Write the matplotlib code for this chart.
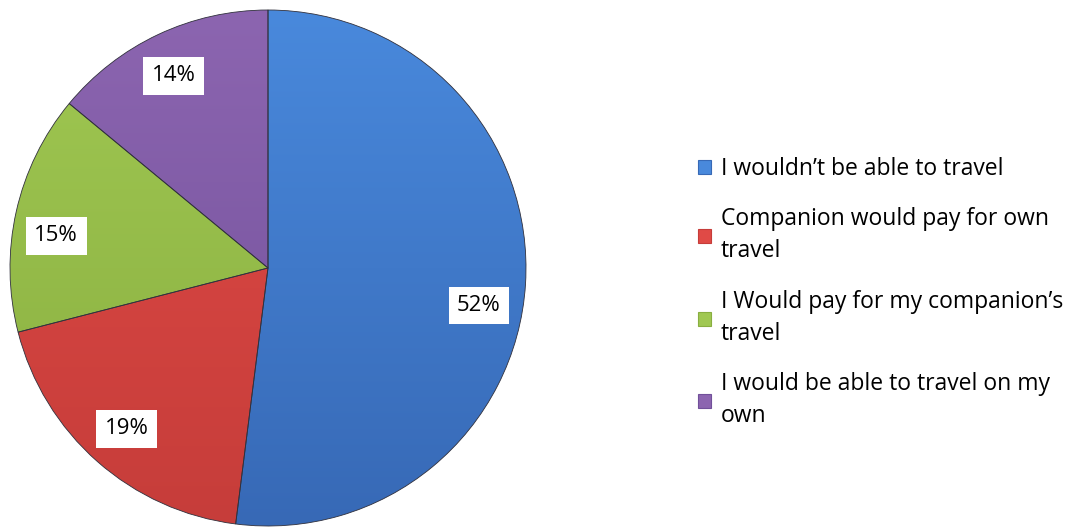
import matplotlib
matplotlib.use('Agg')
import matplotlib.pyplot as plt
import numpy as np
from matplotlib.patches import Patch

labels = ["I wouldn\u2019t be able to travel",
          "Companion would pay for own\ntravel",
          "I Would pay for my companion\u2019s\ntravel",
          "I would be able to travel on my\nown"]
values = [52, 19, 15, 14]
pct_text = ["52%", "19%", "15%", "14%"]
top_colors = ["#4989DC", "#E04A46", "#A0C852", "#8C65B0"]
bottom_colors = ["#3769B6", "#C63D3A", "#89AE40", "#71509A"]
# small angular nudges (degrees) for the percentage boxes
label_shift = [6.5, 0, -4, -1]

plt.rcParams['font.family'] = ['Open Sans', 'DejaVu Sans']

fig = plt.figure(figsize=(10.78, 5.27), dpi=100)
ax = fig.add_axes([0, 0, 1, 1])

cx, cy, r = 268, 268, 258
# y axis runs downward, so counterclock=True from -90 goes clockwise from 12 o'clock
wedges, _ = ax.pie(values, startangle=-90, counterclock=True,
                   center=(cx, cy), radius=r, frame=True,
                   wedgeprops=dict(edgecolor='#30303c', linewidth=0.6))
ax.set_aspect('equal')
ax.axis('off')

# vertical shading inside each slice
for w, c0, c1 in zip(wedges, top_colors, bottom_colors):
    rgb0 = np.array(matplotlib.colors.to_rgb(c0))
    rgb1 = np.array(matplotlib.colors.to_rgb(c1))
    t = np.linspace(0, 1, 256)[:, None]
    grad = (rgb0 * (1 - t) + rgb1 * t)[:, None, :]
    w.set_facecolor('none')
    im = ax.imshow(grad, extent=(cx - r, cx + r, cy + r, cy - r),
                   origin='upper', aspect='auto', zorder=0.5)
    im.set_clip_path(w)
    w.set_zorder(1)
ax.set_xlim(0, 1078)
ax.set_ylim(527, 0)

# percentage labels in white boxes
angles = np.cumsum([0] + values)
for i, txt in enumerate(pct_text):
    mid = np.deg2rad(-90 + (angles[i] + angles[i + 1]) / 2 * 3.6 + label_shift[i])
    d = 0.83 * r
    ax.text(cx + d * np.cos(mid), cy + d * np.sin(mid), txt,
            ha='center', va='center', fontsize=16, color='black', zorder=3,
            bbox=dict(facecolor='white', edgecolor='none', pad=6))

handles = [Patch(facecolor=c, edgecolor=b, linewidth=0.8)
           for c, b in zip(top_colors, bottom_colors)]
leg = ax.legend(handles, labels, loc='upper left',
                bbox_to_anchor=(698 / 1078, 1 - 157 / 527),
                frameon=False, fontsize=16.5, handlelength=0.55,
                handleheight=0.55, handletextpad=0.45, labelspacing=1.15,
                borderaxespad=0, borderpad=0)
for t in leg.get_texts():
    t.set_linespacing(1.45)

fig.savefig('out.png', dpi=100)
